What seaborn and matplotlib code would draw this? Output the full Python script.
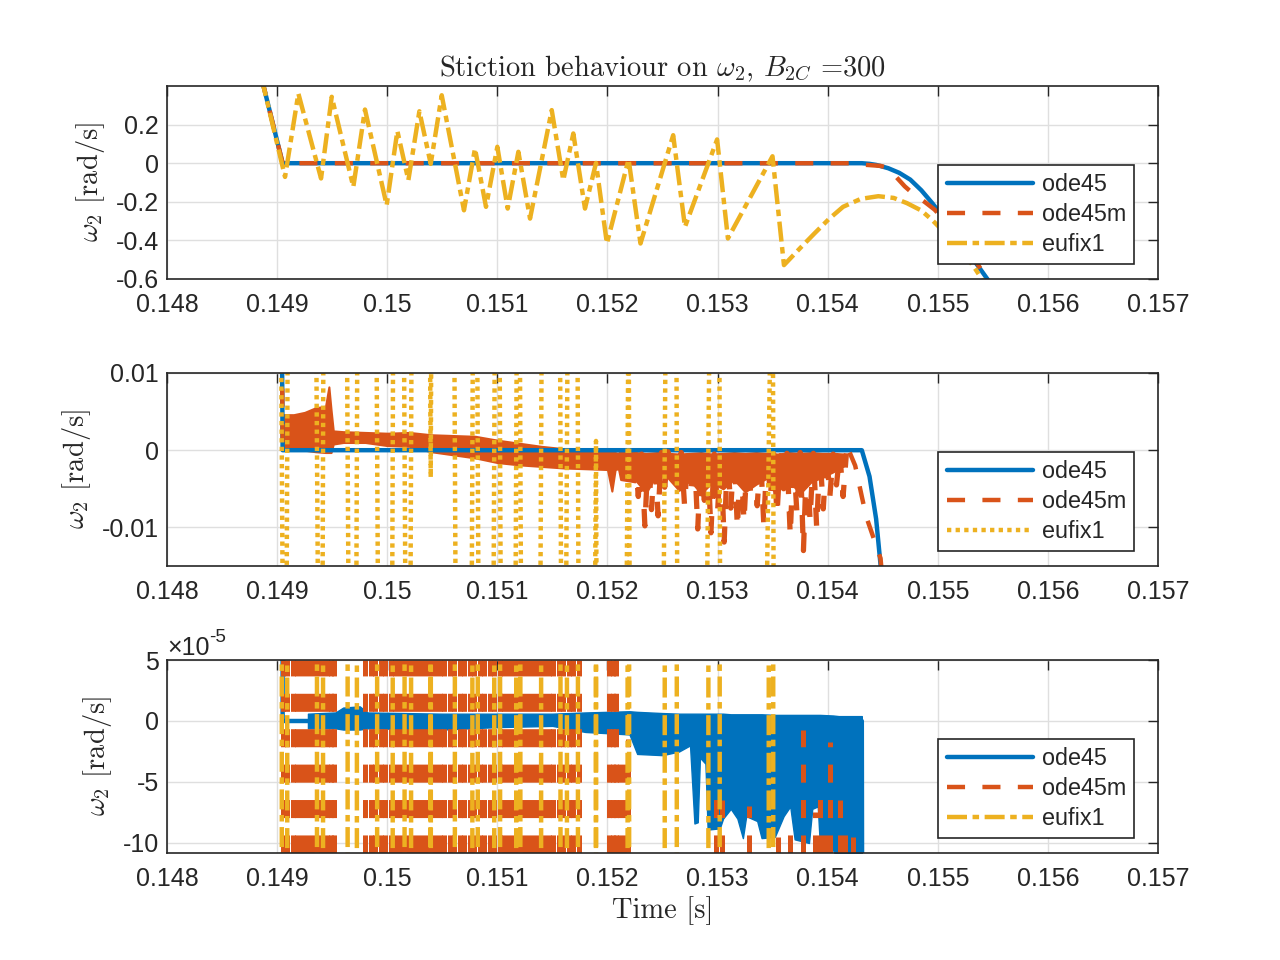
"""
Stiction behaviour on omega_2 -- the same run shown at three zoom levels
"""
import numpy as np
import matplotlib
matplotlib.use('Agg')
import matplotlib.pyplot as plt
from matplotlib.lines import Line2D
from matplotlib.ticker import FuncFormatter
import seaborn as sns

# ---------------- data ----------------
# ode45 trace (rad/s)
t_ode45 = [0.148855, 0.14905, 0.15431, 0.15438, 0.15444, 0.15448, 0.15455, 0.15465,
           0.15475, 0.15485, 0.15495, 0.15505, 0.15515, 0.15525, 0.15535, 0.15545, 0.15555]
w_ode45 = [0.45, 0.0, 0.0, -0.0034, -0.0089, -0.0148, -0.026, -0.05,
           -0.085, -0.14, -0.207, -0.28, -0.36, -0.44, -0.52, -0.60, -0.68]

# ode45m run-in and run-out (rad/s), flat at zero in between
t_ode45m_in = [0.148855, 0.14905]
w_ode45m_in = [0.45, 0.0]
t_ode45m_out = [0.15420, 0.15425, 0.15431, 0.15435, 0.15442, 0.15448, 0.15455, 0.15462, 0.15470,
                0.15478, 0.15488, 0.15497, 0.15507, 0.15517, 0.15527, 0.15537, 0.15547, 0.15557]
w_ode45m_out = [-0.0003, -0.002, -0.006, -0.0086, -0.0115, -0.014, -0.025, -0.07, -0.12,
                -0.16, -0.20, -0.24, -0.30, -0.37, -0.45, -0.53, -0.62, -0.70]

# eufix1 (rad/s), same samples on all three panels
t_eufix1 = [0.148855, 0.149072, 0.149193, 0.149399, 0.149496, 0.149692, 0.149798, 0.149995,
            0.150092, 0.150192, 0.150292, 0.150395, 0.150495, 0.150697, 0.150797, 0.150897,
            0.151000, 0.151094, 0.151191, 0.151297, 0.151494, 0.151599, 0.151690, 0.151796,
            0.151896, 0.151995, 0.152192, 0.152300, 0.152597, 0.152704, 0.152996, 0.153094,
            0.153499, 0.153603, 0.15375, 0.15388, 0.15401, 0.15414, 0.15430, 0.15446,
            0.15460, 0.15472, 0.15485, 0.15495, 0.15508, 0.15520, 0.15532, 0.15540, 0.15550]
w_eufix1 = [0.45, -0.071, 0.361, -0.079, 0.344, -0.123, 0.278, -0.218,
            0.167, -0.088, 0.269, -0.0035, 0.352, -0.244, 0.076, -0.226,
            0.085, -0.235, 0.059, -0.287, 0.275, -0.088, 0.154, -0.235,
            0.0012, -0.416, 0.02, -0.416, 0.145, -0.330, 0.123, -0.390,
            0.036, -0.528, -0.44, -0.364, -0.29, -0.226, -0.185, -0.171,
            -0.18, -0.207, -0.245, -0.295, -0.37, -0.45, -0.53, -0.60, -0.68]

# middle panel: ode45m chatter band (1e-3 rad/s)
t_mid_band = [0.14905, 0.14915, 0.14925, 0.14935, 0.14944, 0.14947, 0.14949, 0.14951, 0.14960,
              0.14980, 0.15000, 0.15020, 0.15040, 0.15060, 0.15080, 0.15100, 0.15120, 0.15140,
              0.15160, 0.15180, 0.15200, 0.15204, 0.15207, 0.15210, 0.15212, 0.15225]
mid_band_hi = [4.6, 4.6, 4.9, 5.5, 5.7, 8.2, 5.2, 2.5, 2.4,
               2.3, 2.2, 2.3, 2.0, 1.9, 1.8, 1.3, 0.9, 0.5,
               0.2, -0.1, -0.3, -0.3, -0.3, -0.4, 0.1, 0.1]
mid_band_lo = [0.0, 0.2, 0.0, -0.2, -0.3, -0.3, -0.3, 0.8, 1.0,
               1.0, 0.6, 0.5, -0.2, -0.6, -1.0, -1.6, -1.9, -2.1,
               -2.3, -2.4, -2.5, -5.3, -2.5, -2.4, -3.8, -4.1]

# middle panel: solid core of the ode45m chatter after 0.1522 s (1e-3 rad/s)
t_mid_core = [0.15225, 0.15235, 0.15245, 0.15255, 0.15265, 0.15275, 0.15285, 0.15295, 0.15305,
              0.15315, 0.15325, 0.15335, 0.15345, 0.15355, 0.15365, 0.15375, 0.15385, 0.15395,
              0.15405, 0.15415]
mid_core_hi = [-0.3, -0.4, -0.3, -0.4, -0.5, -0.4, -0.3, -0.5, -0.4, -0.3,
               -0.4, -0.3, -0.4, -0.5, -0.3, -0.4, -0.3, -0.4, -0.4, -0.5]
mid_core_lo = [-3.8, -5.5, -3.2, -3.6, -5.2, -3.9, -5.6, -4.2, -5.0, -3.8,
               -5.4, -4.4, -3.6, -5.2, -4.0, -5.6, -4.1, -3.5, -2.8, -2.0]

# middle panel: ode45m chatter after 0.1522 s (1e-3 rad/s)
t_mid_chat = [0.15225, 0.15228, 0.15231, 0.15234, 0.15237, 0.15240, 0.15243, 0.15246, 0.15249, 0.15252,
              0.15255, 0.15258, 0.15261, 0.15264, 0.15267, 0.15270, 0.15273, 0.15276, 0.15279, 0.15282,
              0.15285, 0.15288, 0.15291, 0.15294, 0.15297, 0.15300, 0.15303, 0.15306, 0.15309, 0.15312,
              0.15315, 0.15318, 0.15321, 0.15324, 0.15327, 0.15330, 0.15333, 0.15336, 0.15339, 0.15342,
              0.15345, 0.15348, 0.15351, 0.15354, 0.15357, 0.15360, 0.15363, 0.15366, 0.15369, 0.15372,
              0.15375, 0.15378, 0.15381, 0.15384, 0.15387, 0.15390, 0.15393, 0.15396, 0.15399, 0.15402,
              0.15405, 0.15408, 0.15411, 0.15414, 0.15417]
w_mid_chat = [-0.3, -6.0, -0.5, -9.8, -0.4, -7.7, -0.6, -8.5, -0.3, -4.8,
              -0.2, -3.8, -0.5, -3.5, -0.3, -7.1, -0.6, -5.0, -0.4, -10.2,
              -0.7, -6.5, -0.3, -10.7, -0.5, -8.0, -0.4, -11.9, -0.6, -7.5,
              -0.3, -10.0, -0.5, -9.2, -0.8, -5.5, -0.4, -7.2, -0.6, -9.6,
              -0.3, -6.0, -0.5, -8.3, -0.7, -5.0, -0.4, -11.0, -0.6, -8.0,
              -0.3, -13.0, -0.5, -9.0, -0.4, -10.0, -0.6, -7.6, -0.3, -6.0,
              -0.5, -4.5, -0.4, -6.0, -0.4]

# bottom panel: ode45 noise band (1e-5 rad/s)
t_bot_band = [0.14928, 0.14953, 0.14960, 0.14975, 0.14982, 0.15050, 0.15100, 0.15150, 0.15180, 0.15220,
              0.15227, 0.15250, 0.15265, 0.15275, 0.15279, 0.15282, 0.15284, 0.15289, 0.15291, 0.15302,
              0.15305, 0.15312, 0.15318, 0.15323, 0.15326, 0.15336, 0.15340, 0.15352, 0.15360, 0.15366,
              0.15370, 0.15383, 0.15386, 0.15391, 0.15393, 0.15405, 0.15410, 0.15431]
bot_band_hi = [0.6, 0.7, 1.1, 1.2, 0.7, 0.6, 0.6, 0.6, 0.7, 0.8,
               0.75, 0.65, 0.6, 0.6, 0.6, 0.6, 0.6, 0.6, 0.6, 0.6,
               0.6, 0.55, 0.55, 0.55, 0.55, 0.55, 0.55, 0.5, 0.5, 0.5,
               0.5, 0.5, 0.5, 0.5, 0.5, 0.45, 0.4, 0.4]
bot_band_lo = [-0.6, -0.6, -0.7, -0.7, -0.6, -0.7, -0.5, -0.4, -0.9, -1.1,
               -2.7, -2.8, -2.5, -2.0, -8.4, -8.3, -3.0, -3.5, -8.9, -8.8,
               -8.0, -7.2, -8.0, -9.6, -7.8, -8.2, -9.6, -9.5, -7.8, -7.0,
               -9.7, -10.0, -7.2, -7.0, -10.3, -10.6, -11.5, -11.5]

# bottom panel: ode45m swings that run through the whole window
t_bot_swing = [0.14905, 0.14909, 0.14914, 0.14918, 0.14923, 0.14927, 0.14932, 0.14936, 0.14941, 0.14945,
               0.14949, 0.14952,
               0.14980, 0.14985, 0.14989, 0.14994, 0.14998, 0.15003, 0.15007, 0.15012, 0.15016, 0.15021,
               0.15025, 0.15030, 0.15034, 0.15039, 0.15043, 0.15048, 0.15052, 0.15057, 0.15061, 0.15066,
               0.15070, 0.15075, 0.15079, 0.15084, 0.15088, 0.15093, 0.15097, 0.15102, 0.15106, 0.15111,
               0.15115, 0.15120, 0.15124, 0.15129, 0.15133, 0.15138, 0.15142, 0.15147, 0.15151, 0.15156,
               0.15160, 0.15165, 0.15169, 0.15174,
               0.15201, 0.15205, 0.15208]
# ...and the short ones, which only come up to bot_spike_top (1e-5 rad/s)
t_bot_spike = [0.152114, 0.152159, 0.152187, 0.152986, 0.153040, 0.153286, 0.153549, 0.153658,
               0.153776, 0.153885, 0.153930, 0.153976, 0.154021, 0.154112, 0.154158, 0.154230]
bot_spike_top = [-3.0, -2.2, -1.5, -5.0, -6.5, -7.0, -9.5, -9.0,
                 -0.7, -7.5, -6.0, -8.5, -1.7, -6.5, -8.0, -9.5]

x_ticks = [0.148, 0.149, 0.150, 0.151, 0.152, 0.153, 0.154, 0.155, 0.156, 0.157]
series_names = ['ode45', 'ode45m', 'eufix1']

# ---------------- style ----------------
sns.set_theme(style='white')
plt.rcParams.update({
    'lines.scale_dashes': False,
    'axes.unicode_minus': False,
    'mathtext.fontset': 'cm',
})
plt.rcParams['font.family'] = ['Liberation Sans', 'DejaVu Sans']

C_BLUE, C_ORANGE, C_YELLOW = '#0072BD', '#D95319', '#EDB120'
DARK = '#262626'
LW = 3.2
DASHED = (0, (13, 12.5))
DASHDOT = (0, (14.4, 4.0, 4.7, 4.0))
DOTTED = (0, (3.1, 3.1))
SERIF = 'cmr10'
SERIF_SIZE = 20.5

YLIM_BOT = (-10.82e-5, 5e-5)

fig = plt.figure(figsize=(12.8, 9.6), dpi=100)
ax_top = fig.add_axes([0.13047, 0.70938, 0.77422, 0.20104])
ax_mid = fig.add_axes([0.13047, 0.41042, 0.77422, 0.20104])
ax_bot = fig.add_axes([0.13047, 0.11146, 0.77422, 0.20104])


def line(ax, t, w, color, ls, lw=LW):
    sns.lineplot(x=np.asarray(t), y=np.asarray(w), ax=ax, color=color, linewidth=lw,
                 linestyle=ls, sort=False, estimator=None)


def dress(ax, ylim, yticks, yfmt, eufix_ls):
    ax.set_xlim(0.148, 0.157)
    ax.set_ylim(*ylim)
    ax.set_xticks(x_ticks)
    ax.set_yticks(yticks)
    ax.xaxis.set_major_formatter(FuncFormatter(lambda v, p: f'{v:g}'))
    ax.yaxis.set_major_formatter(FuncFormatter(yfmt))
    ax.tick_params(direction='in', length=7, width=1, top=True, right=True,
                   labelsize=18, color=DARK, labelcolor=DARK)
    ax.tick_params(axis='x', pad=10)
    ax.tick_params(axis='y', pad=6)
    ax.grid(True, color='#dfdfdf', linewidth=1.0)
    ax.set_axisbelow(True)
    for sp in ax.spines.values():
        sp.set_color(DARK)
        sp.set_linewidth(1.2)
    ax.set_ylabel(r'$\omega_2$ [rad/s]', fontfamily=SERIF, fontsize=SERIF_SIZE, color=DARK,
                  labelpad=6)
    handles = [Line2D([], [], color=C_BLUE, lw=LW, ls='-'),
               Line2D([], [], color=C_ORANGE, lw=LW, ls=DASHED),
               Line2D([], [], color=C_YELLOW, lw=LW, ls=eufix_ls)]
    leg = ax.legend(handles, series_names, loc='lower right', bbox_to_anchor=(0.976, 0.078),
                    borderaxespad=0, fontsize=16.8, handlelength=3.7, handletextpad=0.38,
                    labelspacing=0.3, borderpad=0.35, frameon=True, fancybox=False,
                    edgecolor=DARK, framealpha=1)
    leg.get_frame().set_linewidth(1.2)
    leg.set_zorder(10)


# ---- top: full scale ----
line(ax_top, t_ode45, w_ode45, C_BLUE, '-')
line(ax_top, t_ode45m_in + t_ode45m_out, w_ode45m_in + w_ode45m_out, C_ORANGE, DASHED)
line(ax_top, t_eufix1, w_eufix1, C_YELLOW, DASHDOT)
dress(ax_top, (-0.6, 0.4), [-0.6, -0.4, -0.2, 0, 0.2], lambda v, p: f'{v:g}', DASHDOT)
ax_top.set_title(r'Stiction behaviour on $\omega_2$, $B_{2C}$ =300',
                 fontfamily=SERIF, fontsize=SERIF_SIZE, pad=7)

# ---- middle: 1e-2 scale ----
line(ax_mid, t_ode45, w_ode45, C_BLUE, '-')
ax_mid.fill_between(t_mid_band, np.array(mid_band_hi) * 1e-3, np.array(mid_band_lo) * 1e-3,
                    color=C_ORANGE, linewidth=1.5)
ax_mid.fill_between(t_mid_core, np.array(mid_core_hi) * 1e-3, np.array(mid_core_lo) * 1e-3,
                    color=C_ORANGE, linewidth=1.5)
line(ax_mid, t_mid_chat, np.array(w_mid_chat) * 1e-3, C_ORANGE, DASHED, lw=3.8)
line(ax_mid, t_ode45m_in, w_ode45m_in, C_ORANGE, DASHED)
line(ax_mid, t_ode45m_out, w_ode45m_out, C_ORANGE, DASHED)
line(ax_mid, t_eufix1, w_eufix1, C_YELLOW, DOTTED)
dress(ax_mid, (-0.015, 0.01), [-0.01, 0, 0.01], lambda v, p: f'{v:g}', DOTTED)

# ---- bottom: 1e-5 scale ----
ax_bot.fill_between(t_bot_band, np.array(bot_band_hi) * 1e-5, np.array(bot_band_lo) * 1e-5,
                    color=C_BLUE, linewidth=1.0)
line(ax_bot, t_ode45, w_ode45, C_BLUE, '-')
ax_bot.vlines(t_bot_swing, YLIM_BOT[0], YLIM_BOT[1], colors=C_ORANGE, linewidth=3.6,
              linestyles=[DASHED])
ax_bot.vlines(t_bot_spike, YLIM_BOT[0], np.array(bot_spike_top) * 1e-5, colors=C_ORANGE,
              linewidth=3.6, linestyles=[DASHED])
line(ax_bot, t_eufix1, w_eufix1, C_YELLOW, DASHDOT)
dress(ax_bot, YLIM_BOT, [-10e-5, -5e-5, 0, 5e-5], lambda v, p: f'{v * 1e5:g}', DASHDOT)
ax_bot.set_xlabel('Time [s]', fontfamily=SERIF, fontsize=SERIF_SIZE, color=DARK, labelpad=4)

# exponent label in the MATLAB manner
base = ax_bot.text(0.0, 1.0, '\u00d710', transform=ax_bot.transAxes, ha='left', va='bottom',
                   fontsize=18, color=DARK)
ax_bot.annotate('-5', xy=(1.0, 0.6), xycoords=base, ha='left', va='bottom',
                fontsize=13.5, color=DARK)

fig.savefig('out.png', dpi=100)
plt.close(fig)
